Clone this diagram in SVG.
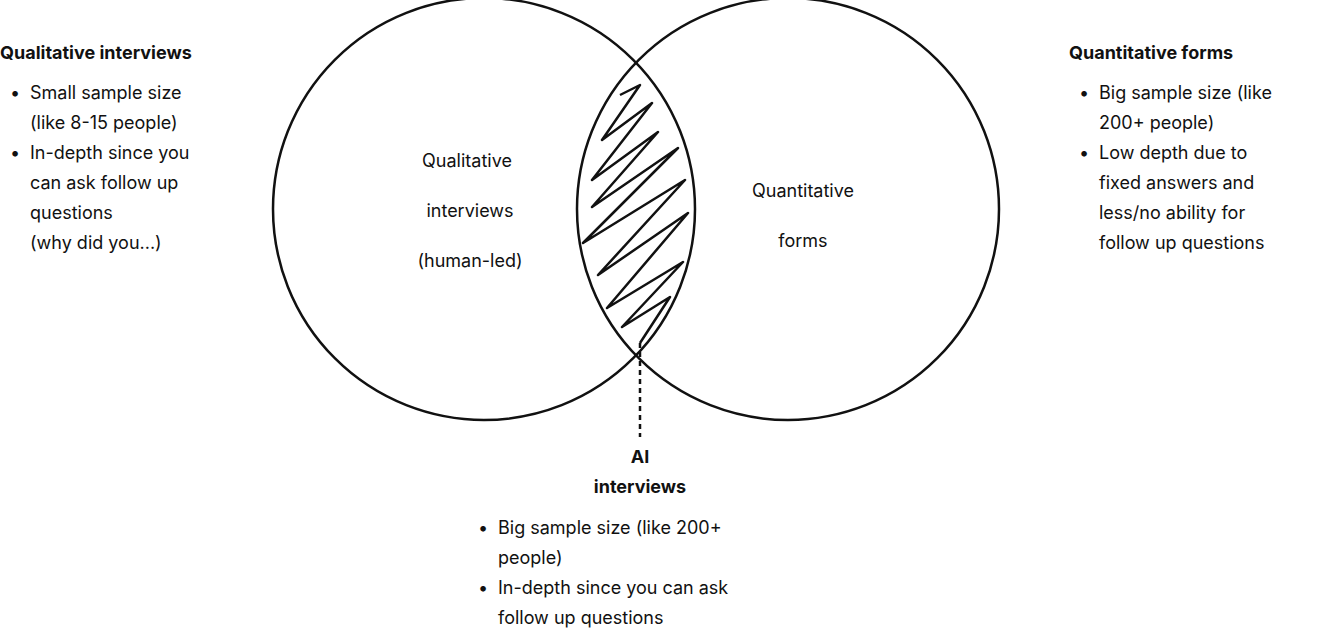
<svg xmlns="http://www.w3.org/2000/svg" width="1333" height="630" viewBox="0 0 1333 630">
<style>
text{font-family:Inter,"Liberation Sans",sans-serif;font-size:18px;fill:#111}
.b{font-weight:bold}
.c{text-anchor:middle}
.s{fill:none;stroke:#111;stroke-width:2.5}
</style>
<rect width="1333" height="630" fill="#fff"/>
<g id="left-circle"><circle class="s" cx="484" cy="209" r="211"/>
<text class="c" x="467" y="167">Qualitative</text><text class="c" x="470" y="217">interviews</text><text class="c" x="470" y="267">(human-led)</text></g>
<g id="right-circle"><circle class="s" cx="788" cy="209" r="211"/>
<text class="c" x="803" y="197">Quantitative</text><text class="c" x="803" y="247">forms</text></g>
<g id="overlap"><polyline class="s" stroke-width="2" stroke-linejoin="round" points="620,95 640,85 602,140 652,103 592,180 658,132 592,207 678,148 583,243 685,180 598,275 688,213 607,308 683,262 622,327 670,297 640,343"/></g>
<g id="connectors"><line x1="640" y1="343" x2="640" y2="437" stroke="#111" stroke-width="2.5" stroke-dasharray="5,4"/></g>
<g id="qual-text"><text class="b" x="0" y="59">Qualitative interviews</text>
<text x="10" y="99">•</text><text x="30" y="99">Small sample size</text><text x="30" y="129">(like 8-15 people)</text>
<text x="10" y="159">•</text><text x="30" y="159">In-depth since you</text><text x="30" y="189">can ask follow up</text><text x="30" y="219">questions</text><text x="30" y="249">(why did you...)</text></g>
<g id="quant-text"><text class="b" x="1069" y="59">Quantitative forms</text>
<text x="1079" y="99">•</text><text x="1099" y="99">Big sample size (like</text><text x="1099" y="129">200+ people)</text>
<text x="1079" y="159">•</text><text x="1099" y="159">Low depth due to</text><text x="1099" y="189">fixed answers and</text><text x="1099" y="219">less/no ability for</text><text x="1099" y="249">follow up questions</text></g>
<g id="ai-text"><text class="b c" x="640" y="463">AI</text><text class="b c" x="640" y="493">interviews</text>
<text x="478" y="534">•</text><text x="498" y="534">Big sample size (like 200+</text><text x="498" y="564">people)</text>
<text x="478" y="594">•</text><text x="498" y="594">In-depth since you can ask</text><text x="498" y="624">follow up questions</text></g>
</svg>
